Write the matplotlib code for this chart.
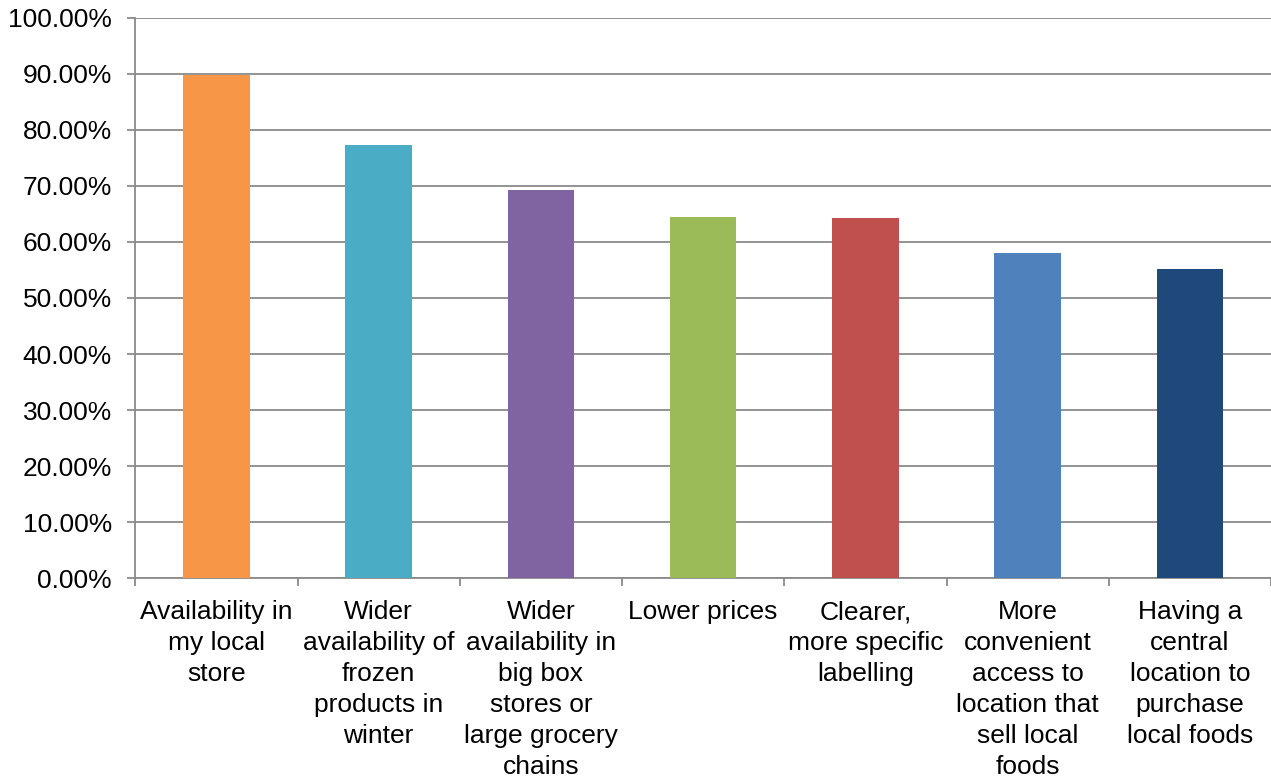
import matplotlib.pyplot as plt
from matplotlib.ticker import FixedLocator, PercentFormatter

plt.rcParams['font.family'] = ['Liberation Sans', 'DejaVu Sans']

# data
categories = [
    "Availability in\nmy local\nstore",
    "Wider\navailability of\nfrozen\nproducts in\nwinter",
    "Wider\navailability in\nbig box\nstores or\nlarge grocery\nchains",
    "Lower prices",
    "Clearer,\nmore specific\nlabelling",
    "More\nconvenient\naccess to\nlocation that\nsell local\nfoods",
    "Having a\ncentral\nlocation to\npurchase\nlocal foods",
]
values = [89.8, 77.3, 69.3, 64.5, 64.3, 58.0, 55.2]
colors = ['#F79646', '#4BACC6', '#8064A2', '#9BBB59', '#C0504D', '#4F81BD', '#1F497D']

fig = plt.figure(figsize=(12.71, 7.77), dpi=100)
ax = fig.add_axes([0.1065, 0.256, 0.8935, 0.721])

x = range(len(categories))
ax.bar(x, values, width=0.41, color=colors, zorder=3)

ax.set_xlim(-0.5, len(categories) - 0.5)
ax.set_ylim(0, 100)
ax.set_yticks(range(0, 101, 10))
ax.yaxis.set_major_formatter(PercentFormatter(decimals=2))
ax.grid(axis='y', color='#8a8a8a', linewidth=1.3, zorder=0)

for s in ['top', 'right']:
    ax.spines[s].set_visible(False)
for s in ['left', 'bottom']:
    ax.spines[s].set_color('#8a8a8a')
    ax.spines[s].set_linewidth(1.3)

ax.set_xticks(list(x))
ax.set_xticklabels(categories, fontsize=19, linespacing=1.37, va='top')
ax.tick_params(axis='x', which='major', length=0, pad=16)
ax.xaxis.set_minor_locator(FixedLocator([i + 0.5 for i in range(-1, len(categories))]))
ax.tick_params(axis='x', which='minor', length=6, color='#8a8a8a', width=1.3)
ax.tick_params(axis='y', length=6, color='#8a8a8a', width=1.3, labelsize=19, pad=11)

plt.savefig('out.png')
